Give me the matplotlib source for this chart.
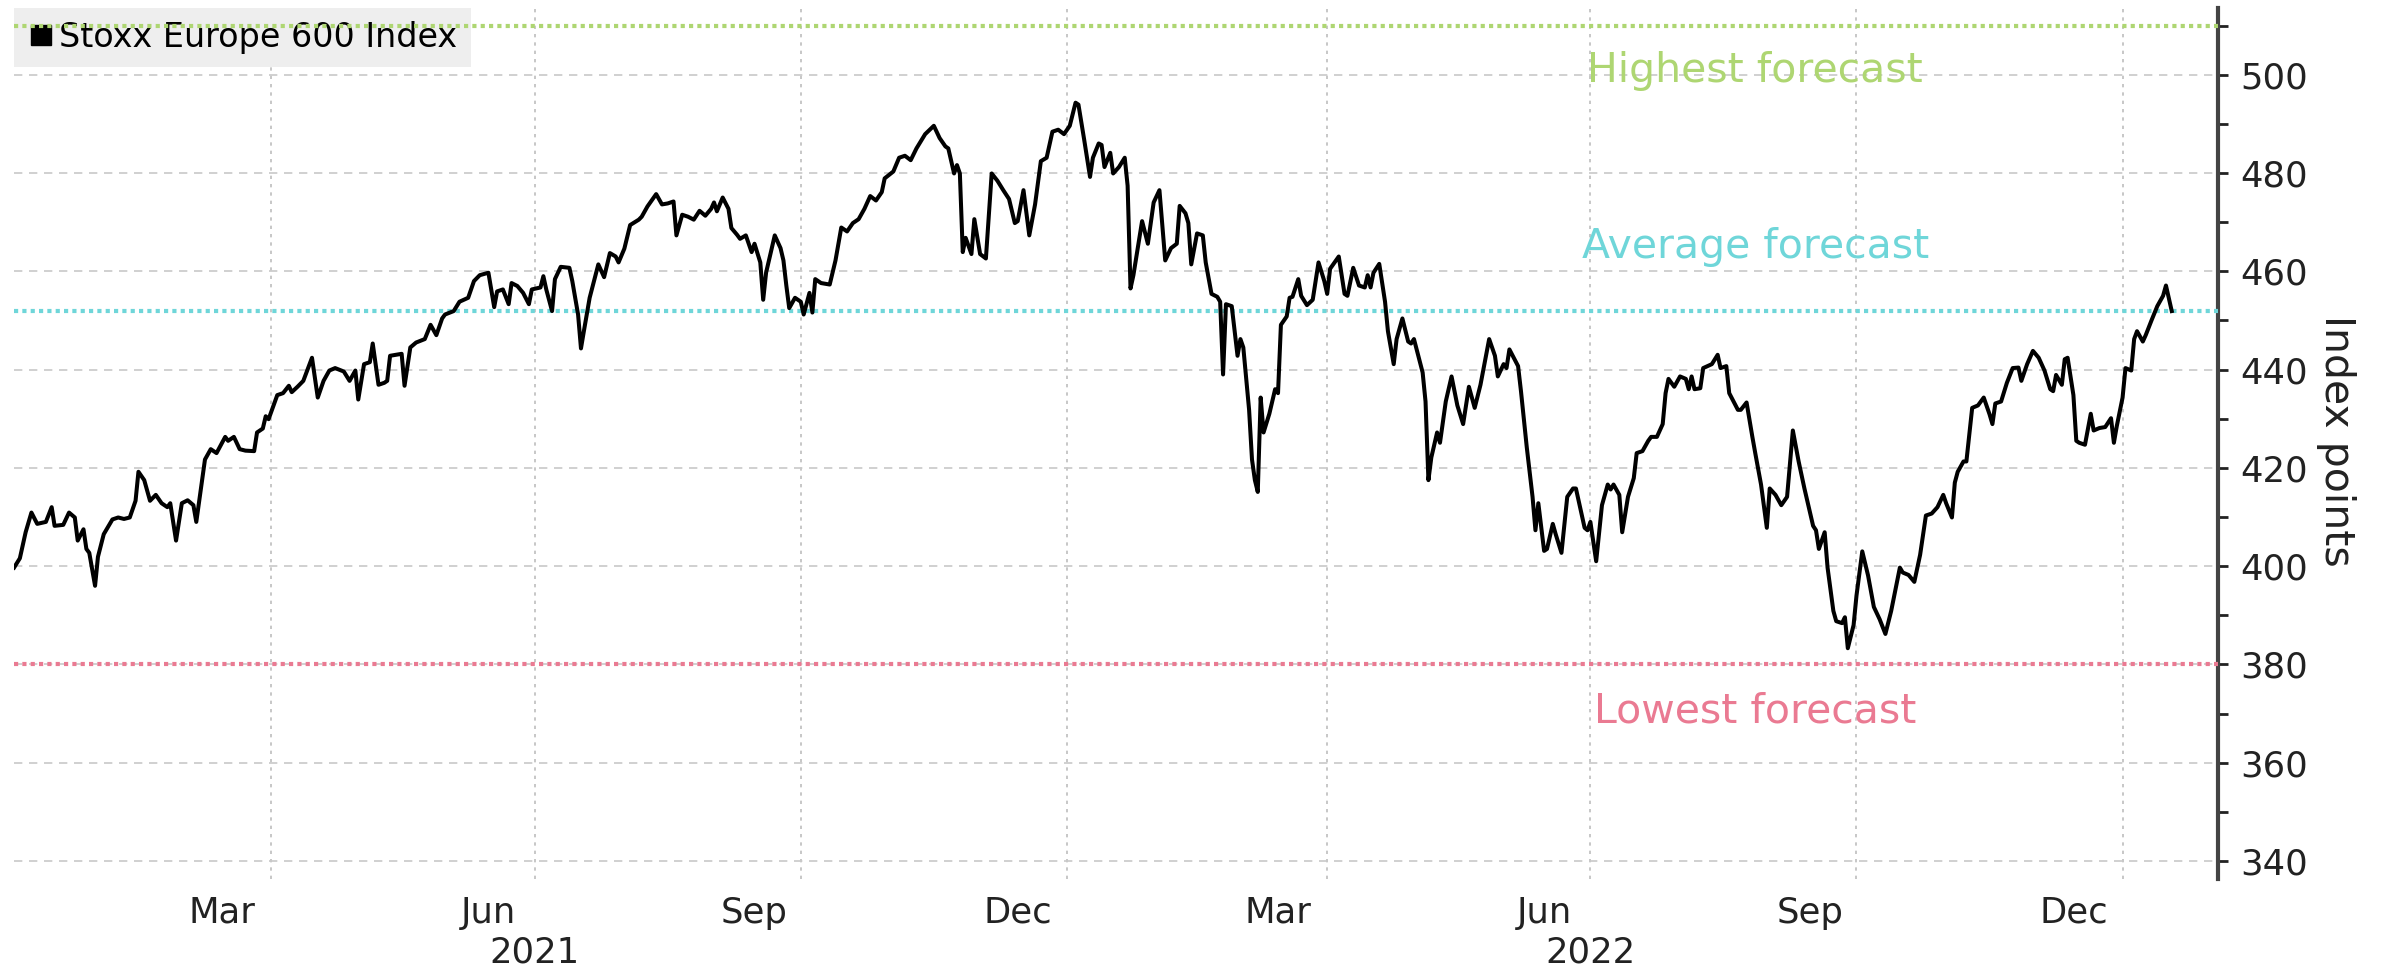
import matplotlib
matplotlib.use("Agg")
import matplotlib.pyplot as plt
import matplotlib.dates as mdates
import matplotlib.transforms as mtransforms
from matplotlib.ticker import MultipleLocator, NullFormatter
from matplotlib.lines import Line2D
import pandas as pd

# Stoxx Europe 600
dates = [
    "2021-01-02", "2021-01-04", "2021-01-06", "2021-01-08", "2021-01-10", "2021-01-13", "2021-01-15", "2021-01-16",
    "2021-01-19", "2021-01-21", "2021-01-23", "2021-01-24", "2021-01-26", "2021-01-27", "2021-01-28", "2021-01-30",
    "2021-01-31", "2021-02-02", "2021-02-05", "2021-02-07", "2021-02-09", "2021-02-11", "2021-02-13", "2021-02-14",
    "2021-02-16", "2021-02-18", "2021-02-20", "2021-02-22", "2021-02-24", "2021-02-25", "2021-02-27", "2021-03-01",
    "2021-03-03", "2021-03-05", "2021-03-06", "2021-03-08", "2021-03-09", "2021-03-11", "2021-03-13", "2021-03-16",
    "2021-03-17", "2021-03-19", "2021-03-21", "2021-03-23", "2021-03-26", "2021-03-27", "2021-03-29", "2021-03-30",
    "2021-03-31", "2021-04-03", "2021-04-05", "2021-04-07", "2021-04-08", "2021-04-10", "2021-04-12", "2021-04-15",
    "2021-04-17", "2021-04-19", "2021-04-21", "2021-04-23", "2021-04-26", "2021-04-28", "2021-04-30", "2021-05-01",
    "2021-05-03", "2021-05-05", "2021-05-06", "2021-05-08", "2021-05-10", "2021-05-11", "2021-05-12", "2021-05-16",
    "2021-05-17", "2021-05-19", "2021-05-21", "2021-05-24", "2021-05-26", "2021-05-28", "2021-05-30", "2021-05-31",
    "2021-06-03", "2021-06-05", "2021-06-08", "2021-06-10", "2021-06-12", "2021-06-15", "2021-06-17", "2021-06-18",
    "2021-06-20", "2021-06-22", "2021-06-23", "2021-06-25", "2021-06-27", "2021-06-29", "2021-06-30", "2021-07-03",
    "2021-07-04", "2021-07-05", "2021-07-07", "2021-07-08", "2021-07-10", "2021-07-13", "2021-07-14", "2021-07-16",
    "2021-07-17", "2021-07-18", "2021-07-20", "2021-07-23", "2021-07-25", "2021-07-27", "2021-07-29", "2021-07-30",
    "2021-08-01", "2021-08-03", "2021-08-06", "2021-08-07", "2021-08-09", "2021-08-12", "2021-08-14", "2021-08-16",
    "2021-08-18", "2021-08-19", "2021-08-21", "2021-08-23", "2021-08-25", "2021-08-27", "2021-08-29", "2021-08-31",
    "2021-09-01", "2021-09-02", "2021-09-04", "2021-09-06", "2021-09-07", "2021-09-09", "2021-09-10", "2021-09-12",
    "2021-09-14", "2021-09-15", "2021-09-17", "2021-09-18", "2021-09-19", "2021-09-22", "2021-09-24", "2021-09-25",
    "2021-09-26", "2021-09-27", "2021-09-29", "2021-10-01", "2021-10-02", "2021-10-04", "2021-10-05", "2021-10-06",
    "2021-10-08", "2021-10-11", "2021-10-13", "2021-10-15", "2021-10-17", "2021-10-19", "2021-10-21", "2021-10-23",
    "2021-10-25", "2021-10-27", "2021-10-29", "2021-10-30", "2021-11-02", "2021-11-04", "2021-11-06", "2021-11-08",
    "2021-11-10", "2021-11-13", "2021-11-16", "2021-11-18", "2021-11-20", "2021-11-21", "2021-11-23", "2021-11-24",
    "2021-11-25", "2021-11-26", "2021-11-27", "2021-11-29", "2021-11-30", "2021-12-02", "2021-12-04", "2021-12-06",
    "2021-12-08", "2021-12-10", "2021-12-12", "2021-12-14", "2021-12-15", "2021-12-17", "2021-12-19", "2021-12-21",
    "2021-12-23", "2021-12-25", "2021-12-27", "2021-12-29", "2021-12-31", "2022-01-02", "2022-01-04", "2022-01-05",
    "2022-01-07", "2022-01-09", "2022-01-10", "2022-01-12", "2022-01-13", "2022-01-14", "2022-01-16", "2022-01-17",
    "2022-01-19", "2022-01-21", "2022-01-22", "2022-01-23", "2022-01-24", "2022-01-27", "2022-01-29", "2022-01-31",
    "2022-02-02", "2022-02-04", "2022-02-06", "2022-02-08", "2022-02-09", "2022-02-11", "2022-02-12", "2022-02-13",
    "2022-02-15", "2022-02-17", "2022-02-18", "2022-02-20", "2022-02-22", "2022-02-23", "2022-02-24", "2022-02-25",
    "2022-02-27", "2022-03-01", "2022-03-02", "2022-03-03", "2022-03-05", "2022-03-06", "2022-03-07", "2022-03-08",
    "2022-03-09", "2022-03-10", "2022-03-12", "2022-03-14", "2022-03-15", "2022-03-16", "2022-03-18", "2022-03-19",
    "2022-03-20", "2022-03-22", "2022-03-23", "2022-03-25", "2022-03-27", "2022-03-29", "2022-03-31", "2022-04-01",
    "2022-04-02", "2022-04-05", "2022-04-07", "2022-04-08", "2022-04-10", "2022-04-12", "2022-04-14", "2022-04-15",
    "2022-04-16", "2022-04-17", "2022-04-19", "2022-04-21", "2022-04-22", "2022-04-24", "2022-04-25", "2022-04-27",
    "2022-04-29", "2022-04-30", "2022-05-01", "2022-05-04", "2022-05-05", "2022-05-06", "2022-05-07", "2022-05-09",
    "2022-05-10", "2022-05-12", "2022-05-14", "2022-05-16", "2022-05-18", "2022-05-20", "2022-05-22", "2022-05-24",
    "2022-05-27", "2022-05-29", "2022-05-30", "2022-06-01", "2022-06-02", "2022-06-03", "2022-06-06", "2022-06-07",
    "2022-06-09", "2022-06-11", "2022-06-12", "2022-06-13", "2022-06-15", "2022-06-16", "2022-06-18", "2022-06-19",
    "2022-06-21", "2022-06-23", "2022-06-25", "2022-06-26", "2022-06-29", "2022-06-30", "2022-07-01", "2022-07-03",
    "2022-07-05", "2022-07-07", "2022-07-08", "2022-07-09", "2022-07-11", "2022-07-12", "2022-07-14", "2022-07-16",
    "2022-07-17", "2022-07-19", "2022-07-21", "2022-07-22", "2022-07-24", "2022-07-26", "2022-07-27", "2022-07-28",
    "2022-07-30", "2022-08-01", "2022-08-03", "2022-08-04", "2022-08-05", "2022-08-06", "2022-08-08", "2022-08-09",
    "2022-08-12", "2022-08-14", "2022-08-15", "2022-08-17", "2022-08-18", "2022-08-21", "2022-08-22", "2022-08-24",
    "2022-08-26", "2022-08-27", "2022-08-29", "2022-08-31", "2022-09-01", "2022-09-03", "2022-09-05", "2022-09-07",
    "2022-09-09", "2022-09-11", "2022-09-13", "2022-09-16", "2022-09-17", "2022-09-18", "2022-09-20", "2022-09-21",
    "2022-09-23", "2022-09-24", "2022-09-26", "2022-09-27", "2022-09-28", "2022-09-30", "2022-10-01", "2022-10-03",
    "2022-10-05", "2022-10-07", "2022-10-09", "2022-10-11", "2022-10-13", "2022-10-16", "2022-10-17", "2022-10-19",
    "2022-10-21", "2022-10-23", "2022-10-25", "2022-10-27", "2022-10-29", "2022-10-31", "2022-11-01", "2022-11-03",
    "2022-11-04", "2022-11-05", "2022-11-07", "2022-11-08", "2022-11-10", "2022-11-12", "2022-11-14", "2022-11-16",
    "2022-11-17", "2022-11-18", "2022-11-20", "2022-11-22", "2022-11-24", "2022-11-26", "2022-11-27", "2022-11-29",
    "2022-12-01", "2022-12-03", "2022-12-05", "2022-12-07", "2022-12-08", "2022-12-09", "2022-12-11", "2022-12-12",
    "2022-12-13", "2022-12-15", "2022-12-16", "2022-12-17", "2022-12-19", "2022-12-21", "2022-12-22", "2022-12-24",
    "2022-12-26", "2022-12-28", "2022-12-29", "2022-12-30", "2023-01-01", "2023-01-02", "2023-01-04", "2023-01-05",
    "2023-01-06", "2023-01-08", "2023-01-09", "2023-01-11", "2023-01-13", "2023-01-15", "2023-01-16", "2023-01-18",
]
index_values = [
    399.7, 401.6, 406.9, 410.9, 408.6, 409.0, 412.0, 408.2,
    408.4, 410.9, 409.9, 405.2, 407.5, 403.5, 402.7, 396.0,
    401.9, 406.5, 409.5, 409.9, 409.6, 409.9, 413.3, 419.2,
    417.5, 413.3, 414.5, 412.8, 412.0, 412.8, 405.2, 412.8,
    413.4, 412.4, 409.0, 417.5, 421.7, 423.8, 423.0, 426.3,
    425.5, 426.3, 423.8, 423.5, 423.4, 427.2, 428.0, 430.5,
    429.9, 434.8, 435.2, 436.7, 435.4, 436.5, 437.7, 442.4,
    434.3, 437.7, 439.8, 440.3, 439.6, 437.7, 439.8, 433.9,
    441.1, 441.5, 445.3, 436.9, 437.3, 437.7, 442.8, 443.2,
    436.7, 444.5, 445.5, 446.2, 449.1, 447.0, 450.4, 451.2,
    451.9, 453.8, 454.6, 458.0, 459.2, 459.7, 452.7, 455.9,
    456.3, 453.3, 457.6, 457.0, 455.6, 453.3, 456.3, 456.7,
    459.0, 456.3, 451.9, 458.4, 460.9, 460.7, 458.0, 451.2,
    444.3, 447.8, 454.6, 461.4, 458.8, 463.7, 463.0, 461.8,
    464.6, 469.4, 470.5, 471.1, 473.2, 475.7, 473.6, 473.8,
    474.2, 467.3, 471.5, 471.1, 470.5, 472.3, 471.3, 472.7,
    474.0, 472.2, 475.0, 472.7, 468.8, 467.4, 466.6, 467.3,
    463.9, 465.6, 461.8, 454.2, 459.7, 467.3, 464.7, 462.2,
    457.1, 452.5, 454.6, 453.8, 451.2, 455.6, 451.6, 458.4,
    457.6, 457.3, 462.2, 468.9, 468.1, 469.8, 470.6, 472.7,
    475.3, 474.4, 476.1, 478.9, 480.3, 483.1, 483.5, 482.6,
    485.0, 487.9, 489.6, 487.1, 485.4, 485.0, 479.9, 481.6,
    479.9, 463.9, 466.8, 463.5, 470.6, 463.5, 462.6, 479.9,
    478.4, 476.5, 474.7, 469.8, 470.2, 476.5, 467.3, 473.6,
    482.4, 483.1, 488.4, 488.8, 487.9, 489.6, 494.3, 493.9,
    486.7, 479.2, 483.1, 486.0, 485.7, 481.2, 484.1, 479.9,
    481.2, 483.1, 477.4, 456.5, 459.2, 470.2, 465.6, 474.0,
    476.5, 462.2, 464.7, 465.6, 473.3, 471.8, 469.8, 461.4,
    467.7, 467.3, 461.8, 455.4, 454.8, 453.8, 439.0, 453.3,
    452.9, 442.8, 446.2, 444.5, 431.8, 421.7, 417.5, 415.1,
    434.3, 427.2, 431.0, 436.0, 435.2, 449.1, 450.8, 454.6,
    454.8, 458.4, 455.0, 453.1, 454.2, 461.8, 458.0, 455.4,
    460.5, 463.0, 455.4, 455.0, 460.7, 457.1, 456.7, 459.2,
    456.7, 459.7, 461.5, 453.8, 447.8, 441.1, 446.2, 450.4,
    445.7, 445.3, 446.2, 439.4, 433.5, 417.5, 422.1, 427.2,
    425.1, 433.5, 438.6, 432.7, 428.9, 436.5, 432.2, 436.9,
    446.2, 442.8, 438.6, 441.1, 440.3, 444.1, 440.7, 435.6,
    424.2, 414.1, 407.3, 412.8, 403.1, 403.5, 408.6, 406.5,
    402.7, 414.1, 415.8, 415.8, 407.8, 407.3, 409.0, 401.0,
    412.4, 416.6, 415.6, 416.6, 414.5, 406.9, 414.1, 417.9,
    423.0, 423.4, 425.5, 426.3, 426.3, 428.9, 435.2, 438.1,
    436.5, 438.6, 438.1, 436.0, 438.6, 436.0, 436.2, 440.3,
    441.1, 443.0, 440.3, 440.7, 435.2, 431.8, 431.8, 433.3,
    426.3, 423.0, 416.6, 407.8, 415.8, 414.5, 412.4, 414.1,
    427.6, 421.3, 415.8, 408.2, 407.3, 403.5, 406.9, 399.7,
    390.9, 388.8, 388.4, 389.6, 383.3, 388.0, 394.0, 403.0,
    398.1, 391.7, 389.2, 386.2, 390.9, 399.7, 398.7, 398.2,
    396.8, 402.3, 410.3, 410.7, 412.0, 414.5, 412.8, 409.9,
    417.0, 419.2, 421.3, 421.3, 432.2, 432.7, 434.3, 430.9,
    428.9, 433.1, 433.5, 437.3, 440.3, 440.4, 437.7, 441.1,
    443.8, 442.4, 439.8, 436.0, 435.6, 438.9, 436.9, 442.1,
    442.4, 434.8, 425.5, 425.1, 424.7, 431.0, 427.6, 428.1,
    428.3, 430.1, 425.1, 428.5, 434.3, 440.3, 439.8, 446.2,
    447.8, 445.7, 447.0, 450.0, 452.9, 455.0, 457.1, 451.9,
]

forecast_names = ["Highest forecast", "Average forecast", "Lowest forecast"]
forecast_values = [510, 452, 380]
forecast_colors = ["#aed672", "#6fd6d9", "#ea7a92"]

year_labels = ["2021", "2022"]
year_label_dates = ["2021-07-01", "2022-07-01"]

x = pd.to_datetime(dates)

fig = plt.figure(figsize=(23.86, 9.67), dpi=100)
ax = fig.add_axes([0.0059, 0.0908, 0.9237, 0.9011])

ax.plot(x, index_values, color="black", lw=2.9, zorder=4)

label_offsets = [-9.2, 13.0, -9.5]
for name, val, col, off in zip(forecast_names, forecast_values, forecast_colors, label_offsets):
    ax.axhline(val, color=col, lw=3, linestyle=(0, (1, 1)), zorder=3)
    ax.text(0.79, val + off, name, color=col, fontsize=29.5, ha="center", va="center",
            transform=mtransforms.blended_transform_factory(ax.transAxes, ax.transData))

ax.set_ylim(336.3, 513.6)
ax.set_xlim(pd.Timestamp("2021-01-02"), pd.Timestamp("2023-02-03"))

# y axis on the right
ax.yaxis.tick_right()
ax.yaxis.set_major_locator(MultipleLocator(20))
ax.yaxis.set_minor_locator(MultipleLocator(10))
ax.tick_params(axis="y", which="major", labelsize=25.5, length=7, width=2, pad=9, colors="#222222")
ax.tick_params(axis="y", which="minor", length=7, width=2, colors="#222222")

# x axis: gridlines at quarter starts, labels mid-month
ax.xaxis.set_major_locator(mdates.MonthLocator(bymonth=[1, 4, 7, 10]))
ax.xaxis.set_major_formatter(NullFormatter())
ax.xaxis.set_minor_locator(mdates.MonthLocator(bymonth=[3, 6, 9, 12], bymonthday=15))
ax.xaxis.set_minor_formatter(mdates.DateFormatter("%b"))
ax.tick_params(axis="x", which="both", length=0)
ax.tick_params(axis="x", which="minor", labelsize=25.5, pad=12, colors="#222222")

for yl, yd in zip(year_labels, year_label_dates):
    ax.text(pd.Timestamp(yd), -0.084, yl, fontsize=25.5, color="#222222", ha="center", va="center",
            transform=ax.get_xaxis_transform())

ax.grid(axis="y", which="major", color="#c8c8c8", lw=1.2, linestyle=(0, (5, 4)))
ax.grid(axis="x", which="major", color="#bdbdbd", lw=1.2, linestyle=(0, (2, 3)))
ax.set_axisbelow(True)

for s in ["left", "top", "bottom"]:
    ax.spines[s].set_visible(False)
ax.spines["right"].set_linewidth(3)
ax.spines["right"].set_color("#444444")

fig.text(0.979, 0.544, "Index points", rotation=270, fontsize=29.5, ha="center", va="center", color="#222222")

handle = Line2D([], [], marker="s", color="black", linestyle="none", markersize=15)
leg = ax.legend([handle], ["Stoxx Europe 600 Index"], loc="upper left", bbox_to_anchor=(0, 1),
                borderaxespad=0, fontsize=24, frameon=True, fancybox=False, facecolor="#eeeeee",
                edgecolor="none", framealpha=1, borderpad=0.4, handlelength=0.8, handletextpad=0.15)
leg.set_zorder(1)

fig.savefig("out.png", dpi=100)
